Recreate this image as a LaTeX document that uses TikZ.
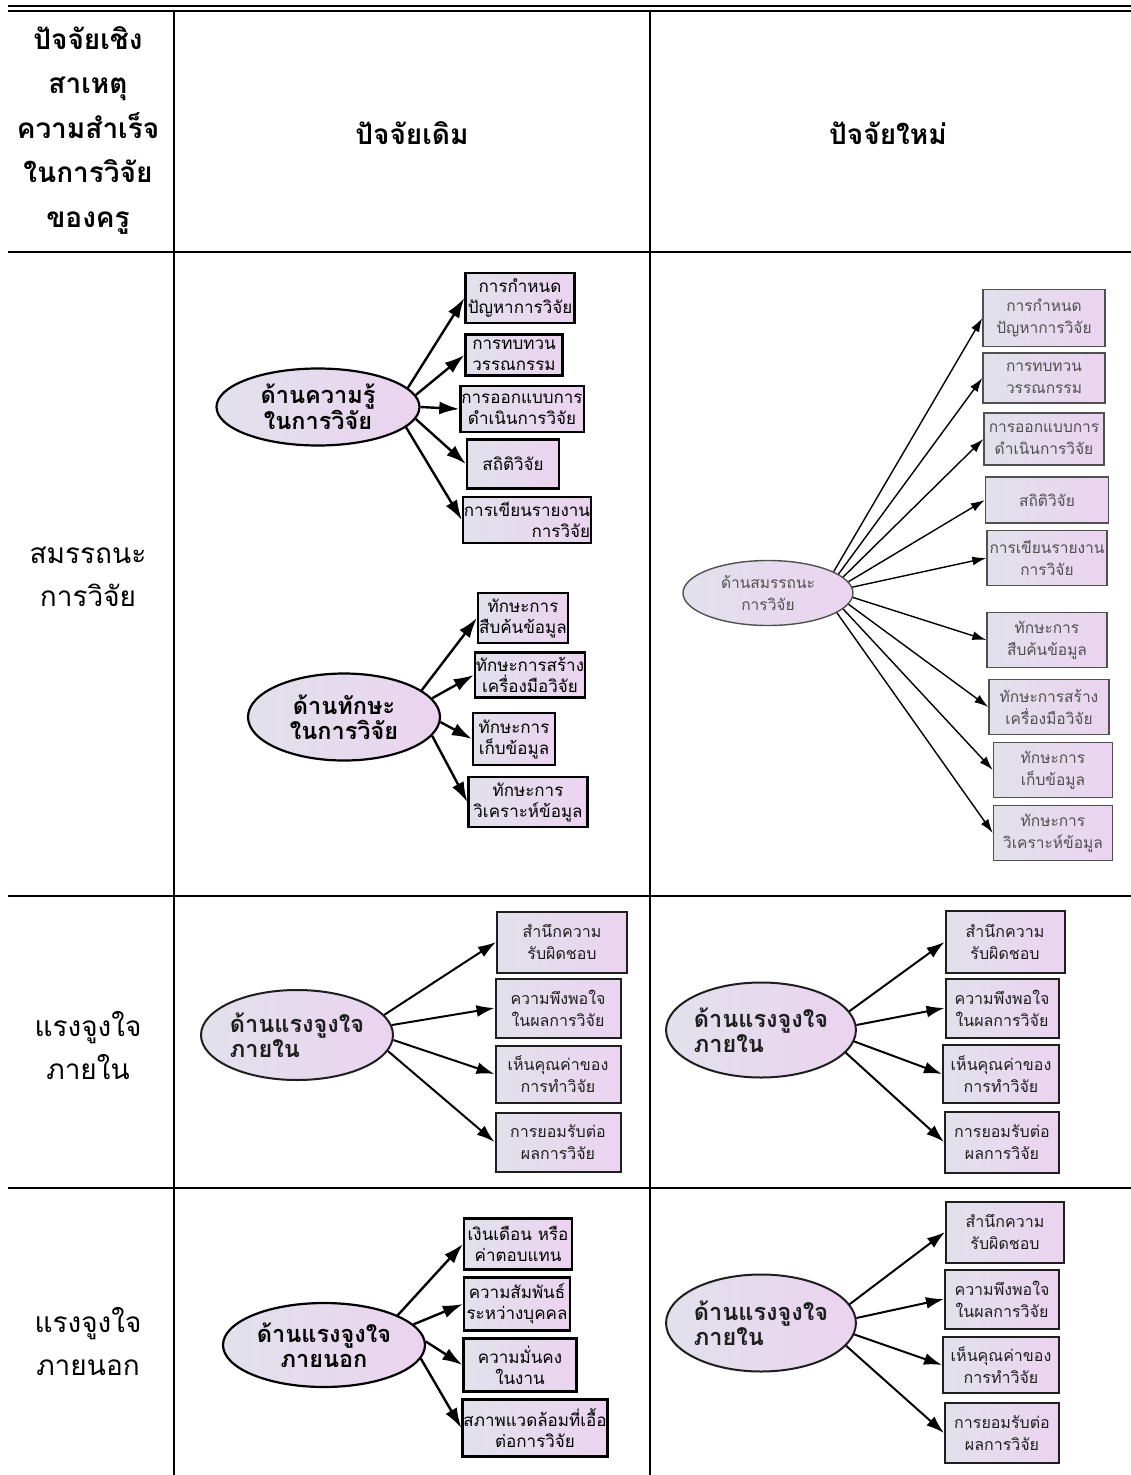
\documentclass[tikz,border=0pt]{standalone}
\usepackage{fontspec}
\setmainfont{Loma}[Script=Thai]
\usetikzlibrary{arrows.meta,shapes.geometric}
\definecolor{fillL}{HTML}{E1E1EB}
\definecolor{fillR}{HTML}{EBD3F0}
\definecolor{inkS}{HTML}{505050}
\definecolor{inkM}{HTML}{1E1E1E}

\begin{document}
\begin{tikzpicture}[x=1pt,y=-1pt,
  rule/.style={line width=2.6pt},
  head/.style={font=\bfseries\fontsize{28}{44.5}\selectfont,align=center},
  lbl/.style={font=\fontsize{28}{43}\selectfont,align=center},
  box/.style={draw,line width=2.2pt,left color=fillL,right color=fillR,align=center,inner sep=1pt,font=\fontsize{17}{21}\selectfont},
  ell/.style={draw,ellipse,line width=2.2pt,left color=fillL,right color=fillR,inner sep=0pt,align=center,font=\bfseries\fontsize{23.5}{25}\selectfont},
  boxS/.style={box,draw=inkS,line width=1.4pt,text=inkS,font=\fontsize{15.5}{22}\selectfont},
  ellS/.style={ell,draw=inkS,line width=1.4pt,text=inkS,font=\fontsize{15.5}{22}\selectfont},
  boxM/.style={box,draw=inkM,line width=2pt,text=inkM,font=\fontsize{16}{22}\selectfont},
  ellM/.style={ell,draw=inkM,line width=2pt,text=inkM,align=left},
  arr/.style={-{Latex[length=20pt,width=13pt]},line width=2.4pt},
  arrS/.style={-{Latex[length=14pt,width=9pt]},line width=1.4pt},
  arrM/.style={-{Latex[length=18pt,width=12pt]},line width=2pt}]
\useasboundingbox (0,0) rectangle (1131,1475);
% table rules
\draw[line width=2.6pt] (8,6)--(1131,6);\draw[line width=2.6pt] (8,11)--(1131,11);
\draw[rule] (8,252)--(1131,252);\draw[rule] (8,896)--(1131,896);\draw[rule] (8,1188)--(1131,1188);
\draw[rule] (174,11)--(174,1475);\draw[rule] (650,11)--(650,1475);
% header
\node[head] (hcause) at (88,130){ปัจจัยเชิง\\สาเหตุ\\ความสำเร็จ\\ในการวิจัย\\ของครู};
\node[head] (hold) at (412,133){ปัจจัยเดิม};
\node[head] (hnew) at (888,133){ปัจจัยใหม่};
% row labels
\node[lbl] (rcomp) at (88,577){สมรรถนะ\\การวิจัย};
\node[lbl] (rin) at (88,1045){แรงจูงใจ\\ภายใน};
\node[lbl] (rout) at (88,1341){แรงจูงใจ\\ภายนอก};
% old factors: knowledge
\node[ell,minimum width=203pt,minimum height=77pt] (kn) at (318,407){ด้านความรู้\\ในการวิจัย};
\node[box,minimum width=109pt,minimum height=50pt] (kn1) at (520,298){การกำหนด\\ปัญหาการวิจัย};
\node[box,minimum width=97pt,minimum height=41pt] (kn2) at (514,355){การทบทวน\\วรรณกรรม};
\node[box,minimum width=112pt,minimum height=46pt] (kn3) at (522,409){การออกแบบการ\\ดำเนินการวิจัย};
\node[box,minimum width=92pt,minimum height=49pt] (kn4) at (513,464){สถิติวิจัย};
\node[box,minimum width=120pt,minimum height=46pt,align=right] (kn5) at (527,520){การเขียนรายงาน\\การวิจัย};
\draw[arr] (kn.12)--(kn1.west);\draw[arr] (kn.7)--(kn2.west);\draw[arr] (kn.0)--(kn3.west);\draw[arr] (kn.-7)--(kn4.west);\draw[arr] (kn.-13)--(kn5.west);
% old factors: skills
\node[ell,minimum width=192pt,minimum height=87pt] (sk) at (344,717){ด้านทักษะ\\ในการวิจัย};
\node[box,minimum width=90pt,minimum height=50pt] (sk1) at (523,618){ทักษะการ\\สืบค้นข้อมูล};
\node[box,minimum width=108pt,minimum height=45pt] (sk2) at (530,675){ทักษะการสร้าง\\เครื่องมือวิจัย};
\node[box,minimum width=82pt,minimum height=52pt] (sk3) at (514,739){ทักษะการ\\เก็บข้อมูล};
\node[box,minimum width=119pt,minimum height=50pt] (sk4) at (528,802){ทักษะการ\\วิเคราะห์ข้อมูล};
\draw[arr] (sk.19)--(sk1.west);\draw[arr] (sk.12)--(sk2.west);\draw[arr] (sk.-3)--(sk3.west);\draw[arr] (sk.-12)--(sk4.west);
% new factors: competency
\node[ellS,minimum width=170pt,minimum height=65pt] (cp) at (768,593){ด้านสมรรถนะ\\การวิจัย};
\node[boxS,minimum width=122pt,minimum height=57pt] (cp1) at (1044,318){การกำหนด\\ปัญหาการวิจัย};
\node[boxS,minimum width=122pt,minimum height=50pt] (cp2) at (1044,378){การทบทวน\\วรรณกรรม};
\node[boxS,minimum width=120pt,minimum height=52pt] (cp3) at (1044,439){การออกแบบการ\\ดำเนินการวิจัย};
\node[boxS,minimum width=123pt,minimum height=46pt] (cp4) at (1047,500){สถิติวิจัย};
\node[boxS,minimum width=120pt,minimum height=55pt] (cp5) at (1047,558){การเขียนรายงาน\\การวิจัย};
\node[boxS,minimum width=120pt,minimum height=55pt] (cp6) at (1047,640){ทักษะการ\\สืบค้นข้อมูล};
\node[boxS,minimum width=120pt,minimum height=55pt] (cp7) at (1049,707){ทักษะการสร้าง\\เครื่องมือวิจัย};
\node[boxS,minimum width=119pt,minimum height=55pt] (cp8) at (1053,770){ทักษะการ\\เก็บข้อมูล};
\node[boxS,minimum width=119pt,minimum height=55pt] (cp9) at (1053,833){ทักษะการ\\วิเคราะห์ข้อมูล};
\draw[arrS] (cp.18)--(cp1.west);\draw[arrS] (cp.15)--(cp2.west);\draw[arrS] (cp.12)--(cp3.west);\draw[arrS] (cp.8)--(cp4.west);\draw[arrS] (cp.4)--(cp5.west);
\draw[arrS] (cp.-3)--(cp6.west);\draw[arrS] (cp.-8)--(cp7.west);\draw[arrS] (cp.-12)--(cp8.west);\draw[arrS] (cp.-16)--(cp9.west);
% intrinsic motivation (old)
\node[ellM,minimum width=192pt,minimum height=90pt] (mi) at (297,1035){ด้านแรงจูงใจ\\ภายใน};
\node[boxM,minimum width=130pt,minimum height=61pt] (mi1) at (562,942){สำนึกความ\\รับผิดชอบ};
\node[boxM,minimum width=125pt,minimum height=59pt] (mi2) at (558,1008){ความพึงพอใจ\\ในผลการวิจัย};
\node[boxM,minimum width=125pt,minimum height=57pt] (mi3) at (558,1074){เห็นคุณค่าของ\\การทำวิจัย};
\node[boxM,minimum width=125pt,minimum height=59pt] (mi4) at (558,1142){การยอมรับต่อ\\ผลการวิจัย};
\draw[arrM] (mi.13)--(mi1.west);\draw[arrM] (mi.6)--(mi2.west);\draw[arrM] (mi.-3)--(mi3.west);\draw[arrM] (mi.-10)--(mi4.west);
% intrinsic motivation (new)
\node[ellM,minimum width=175pt,minimum height=95pt] (mn) at (761,1030){ด้านแรงจูงใจ\\ภายใน};
\node[boxM,minimum width=119pt,minimum height=62pt] (mn1) at (1005,942){สำนึกความ\\รับผิดชอบ};
\node[boxM,minimum width=113pt,minimum height=59pt] (mn2) at (1002,1008){ความพึงพอใจ\\ในผลการวิจัย};
\node[boxM,minimum width=116pt,minimum height=58pt] (mn3) at (1001,1074){เห็นคุณค่าของ\\การทำวิจัย};
\node[boxM,minimum width=114pt,minimum height=61pt] (mn4) at (1002,1142){การยอมรับต่อ\\ผลการวิจัย};
\draw[arrM] (mn.12)--(mn1.west);\draw[arrM] (mn.3)--(mn2.west);\draw[arrM] (mn.-7)--(mn3.west);\draw[arrM] (mn.-15)--(mn4.west);
% extrinsic motivation (old)
\node[ell,minimum width=202pt,minimum height=84pt] (mo) at (324,1345){ด้านแรงจูงใจ\\ภายนอก};
\node[box,minimum width=108pt,minimum height=51pt] (mo1) at (518,1244){เงินเดือน หรือ\\ค่าตอบแทน};
\node[box,minimum width=106pt,minimum height=53pt] (mo2) at (517,1304){ความสัมพันธ์\\ระหว่างบุคคล};
\node[box,minimum width=113pt,minimum height=53pt] (mo3) at (520,1365){ความมั่นคง\\ในงาน};
\node[box,minimum width=144pt,minimum height=57pt] (mo4) at (535,1428){สภาพแวดล้อมที่เอื้อ\\ต่อการวิจัย};
\draw[arr] (mo.22)--(mo1.west);\draw[arr] (mo.13)--(mo2.west);\draw[arr] (mo.2)--(mo3.west);\draw[arr] (mo.-8)--(mo4.west);
% extrinsic row, new column
\node[ellM,minimum width=177pt,minimum height=97pt] (mp) at (761,1323){ด้านแรงจูงใจ\\ภายใน};
\node[boxM,minimum width=118pt,minimum height=61pt] (mp1) at (1005,1232){สำนึกความ\\รับผิดชอบ};
\node[boxM,minimum width=114pt,minimum height=59pt] (mp2) at (1002,1299){ความพึงพอใจ\\ในผลการวิจัย};
\node[boxM,minimum width=116pt,minimum height=56pt] (mp3) at (1001,1365){เห็นคุณค่าของ\\การทำวิจัย};
\node[boxM,minimum width=114pt,minimum height=60pt] (mp4) at (1002,1433){การยอมรับต่อ\\ผลการวิจัย};
\draw[arrM] (mp.12)--(mp1.west);\draw[arrM] (mp.3)--(mp2.west);\draw[arrM] (mp.-7)--(mp3.west);\draw[arrM] (mp.-15)--(mp4.west);
\end{tikzpicture}
\end{document}
